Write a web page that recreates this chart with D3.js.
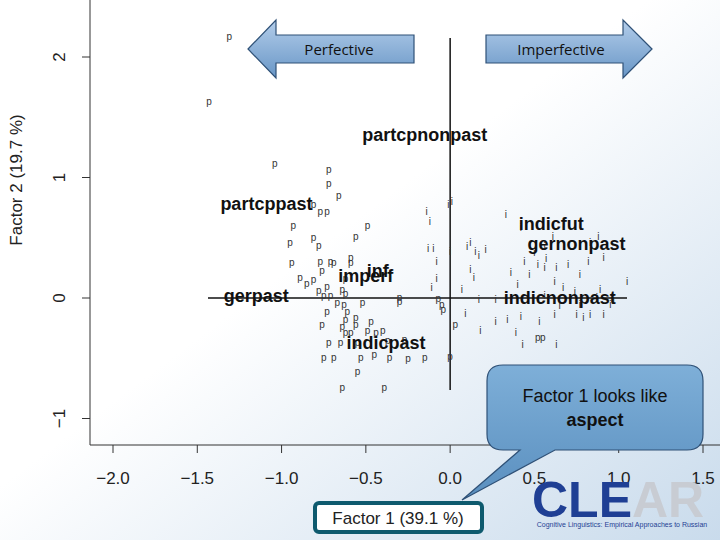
<!DOCTYPE html>
<html><head><meta charset="utf-8">
<script src="https://cdn.jsdelivr.net/npm/d3@7"></script>
<style>body{margin:0;} text{font-family:"Liberation Sans",Arial,sans-serif;}</style>
</head><body><div id="chart"></div>
<script>
const width = 720, height = 540

// points (factor 1, factor 2)
const pPoints = [[-1.31,2.17],[-1.43,1.63],[-1.04,1.11],[-0.72,1.06],[-0.72,0.95],[-0.66,0.85],[-0.81,0.77],[-0.77,0.71],[-0.73,0.71],[-0.93,0.6],[-0.49,0.6],[-0.95,0.46],[-0.81,0.5],[-0.56,0.51],[-0.78,0.43],[-0.94,0.29],[-0.77,0.3],[-0.71,0.3],[-0.59,0.33],[-0.69,0.29],[-0.59,0.29],[-0.76,0.22],[-0.62,0.16],[-0.89,0.17],[-0.81,0.15],[-0.78,0.06],[-0.73,0.09],[-0.71,0.02],[-0.75,0.02],[-0.64,0.07],[-0.62,0.03],[-0.85,0.12],[-0.67,-0.04],[-0.52,-0.04],[-0.3,-0.03],[-0.05,-0.06],[-0.04,-0.1],[-0.73,-0.12],[-0.63,-0.06],[-0.61,-0.12],[-0.56,-0.17],[-0.62,-0.18],[-0.56,-0.22],[-0.76,-0.22],[-0.64,-0.24],[-0.47,-0.2],[-0.44,-0.29],[-0.62,-0.29],[-0.59,-0.29],[-0.49,-0.27],[-0.4,-0.27],[-0.72,-0.37],[-0.65,-0.37],[-0.55,-0.37],[-0.37,-0.36],[-0.27,-0.35],[-0.75,-0.5],[-0.69,-0.5],[-0.53,-0.5],[-0.45,-0.47],[-0.36,-0.5],[-0.25,-0.51],[-0.15,-0.5],[-0.55,-0.61],[-0.64,-0.75],[-0.39,-0.75],[0.03,-0.22],[0.0,-0.49],[0.52,-0.33],[0.55,-0.33],[-0.3,0.0],[-0.07,-0.01]]
const iPoints = [[-0.14,0.71],[-0.01,0.77],[0.01,0.8],[-0.12,0.63],[-0.13,0.41],[-0.1,0.41],[-0.08,0.3],[0.0,0.38],[-0.08,0.16],[-0.11,0.08],[0.1,0.42],[0.15,0.38],[0.17,0.35],[0.21,0.4],[0.12,0.23],[0.14,0.17],[0.33,0.69],[0.42,0.58],[0.44,0.3],[0.17,-0.02],[0.07,0.07],[0.57,0.32],[0.52,0.27],[0.56,0.25],[0.63,0.25],[0.7,0.27],[0.36,0.21],[0.47,0.19],[0.62,0.13],[0.77,0.19],[0.89,0.07],[1.05,0.13],[0.82,0.3],[0.91,0.33],[0.88,0.51],[0.83,0.46],[0.4,0.11],[0.56,0.02],[0.74,0.05],[0.67,0.08],[0.87,0.0],[0.95,-0.06],[0.97,-0.02],[0.65,-0.07],[0.42,-0.16],[0.34,-0.18],[0.53,-0.2],[0.62,-0.14],[0.83,-0.14],[0.75,-0.14],[0.79,-0.17],[0.91,-0.14],[0.27,-0.2],[0.39,-0.29],[0.43,-0.39],[0.63,-0.39],[0.5,0.37],[0.61,0.51],[0.77,-0.06],[0.56,0.42],[0.27,-0.02],[0.12,0.46],[0.18,-0.27],[0.09,-0.13]]
const labelNames = ['partcpnonpast','partcppast','gerpast','imperf','inf','indicpast','indicfut','gernonpast','indicnonpast']
const labelX = [-0.15,-1.09,-1.15,-0.5,-0.43,-0.38,0.6,0.75,0.65]
const labelY = [1.35,0.78,0.02,0.18,0.22,-0.37,0.61,0.45,0.0]
const xTicks = [-2.0,-1.5,-1.0,-0.5,0.0,0.5,1.0,1.5]
const yTicks = [-1,0,1,2]

const x = d3.scaleLinear().domain([-2, 1.5]).range([113, 703])
const y = d3.scaleLinear().domain([0, 2]).range([298, 57])

const svg = d3.select('#chart').append('svg').attr('width', width).attr('height', height)
const defs = svg.append('defs')
const bg = defs.append('linearGradient').attr('id', 'bg').attr('x1', 0).attr('y1', 0).attr('x2', 1).attr('y2', 1)
bg.append('stop').attr('offset', '0.45').attr('stop-color', '#ffffff')
bg.append('stop').attr('offset', '1').attr('stop-color', '#c9dbec')
const ag = defs.append('linearGradient').attr('id', 'arrow').attr('x1', 0).attr('y1', 0).attr('x2', 0).attr('y2', 1)
ag.append('stop').attr('offset', '0').attr('stop-color', '#b3cdea')
ag.append('stop').attr('offset', '1').attr('stop-color', '#6896c6')
const cg = defs.append('linearGradient').attr('id', 'callout').attr('x1', 0).attr('y1', 0).attr('x2', 0).attr('y2', 1)
cg.append('stop').attr('offset', '0').attr('stop-color', '#7eafd8')
cg.append('stop').attr('offset', '1').attr('stop-color', '#5a8fbf')

svg.append('rect').attr('width', width).attr('height', height).attr('fill', 'url(#bg)')

// frame
svg.append('path').attr('d', 'M90,0V445H720').attr('fill', 'none').attr('stroke', '#333').attr('stroke-width', 1)

// crosshair
svg.append('line').attr('x1', 208).attr('x2', 627).attr('y1', y(0)).attr('y2', y(0)).attr('stroke', '#111').attr('stroke-width', 1.5)
svg.append('line').attr('x1', x(0)).attr('x2', x(0)).attr('y1', 38).attr('y2', 390).attr('stroke', '#111').attr('stroke-width', 1.5)

// axes
svg.selectAll('.xt').data(xTicks).join('line').attr('x1', d => x(d)).attr('x2', d => x(d))
  .attr('y1', 445).attr('y2', 453).attr('stroke', '#333')
svg.selectAll('.xl').data(xTicks).join('text').attr('x', d => x(d)).attr('y', 484)
  .attr('text-anchor', 'middle').style('font-size', '17px').attr('fill', '#222')
  .text(d => (d < 0 ? '\u2212' : '') + Math.abs(d).toFixed(1))
svg.selectAll('.yt').data(yTicks).join('line').attr('x1', 82).attr('x2', 90)
  .attr('y1', d => y(d)).attr('y2', d => y(d)).attr('stroke', '#333')
svg.selectAll('.yl').data(yTicks).join('text')
  .attr('transform', d => `translate(65,${y(d)}) rotate(-90)`)
  .attr('text-anchor', 'middle').style('font-size', '17px').attr('fill', '#222')
  .text(d => (d < 0 ? '\u2212' : '') + Math.abs(d))
svg.append('text').attr('transform', 'translate(22,180) rotate(-90)').attr('text-anchor', 'middle')
  .style('font-size', '17px').attr('fill', '#222').text('Factor 2  (19.7 %)')

// points
svg.selectAll('.p').data(pPoints).join('text').attr('x', d => x(d[0])).attr('y', d => y(d[1]) + 3)
  .attr('text-anchor', 'middle').style('font-size', '10px').attr('fill', '#333').text('p')
svg.selectAll('.i').data(iPoints).join('text').attr('x', d => x(d[0])).attr('y', d => y(d[1]) + 3)
  .attr('text-anchor', 'middle').style('font-size', '10px').attr('fill', '#333').text('i')

// category labels
svg.selectAll('.lab').data(labelNames).join('text')
  .attr('x', (d, k) => x(labelX[k])).attr('y', (d, k) => y(labelY[k]) + 6)
  .attr('text-anchor', 'middle').style('font-size', '18px').attr('font-weight', 700).attr('fill', '#111')
  .text(d => d)

// arrows
svg.append('path').attr('d', 'M248,49L276,20V35H414V63H276V78Z')
  .attr('fill', 'url(#arrow)').attr('stroke', '#2f5177').attr('stroke-width', 1.2)
svg.append('path').attr('d', 'M652,49L623,20V35H486V63H623V78Z')
  .attr('fill', 'url(#arrow)').attr('stroke', '#2f5177').attr('stroke-width', 1.2)
svg.append('text').attr('x', 339).attr('y', 55).attr('text-anchor', 'middle').style('font-size', '15px')
  .style('font-family', '"Open Sans",sans-serif').attr('fill', '#111').text('Perfective')
svg.append('text').attr('x', 561).attr('y', 55).attr('text-anchor', 'middle').style('font-size', '15px')
  .style('font-family', '"Open Sans",sans-serif').attr('fill', '#111').text('Imperfective')

// callout
svg.append('path')
  .attr('d', 'M503,365H687Q703,365 703,381V434Q703,450 687,450H555L462,500L520,450H503Q487,450 487,434V381Q487,365 503,365Z')
  .attr('fill', 'url(#callout)').attr('stroke', '#2f5177').attr('stroke-width', 1.2)
svg.append('text').attr('x', 595).attr('y', 402).attr('text-anchor', 'middle').style('font-size', '18px')
  .attr('fill', '#111').text('Factor 1 looks like')
svg.append('text').attr('x', 595).attr('y', 426).attr('text-anchor', 'middle').style('font-size', '18px')
  .attr('font-weight', 700).attr('fill', '#111').text('aspect')

// x title box
svg.append('rect').attr('x', 315).attr('y', 503).attr('width', 167).attr('height', 29).attr('rx', 4)
  .attr('fill', '#fff').attr('stroke', '#0e5a6e').attr('stroke-width', 4)
svg.append('text').attr('x', 398).attr('y', 524).attr('text-anchor', 'middle').style('font-size', '17px')
  .attr('fill', '#222').text('Factor 1  (39.1 %)')

// logo
const logo = svg.append('text').attr('x', 532).attr('y', 517).style('font-size', '50px').attr('font-weight', 700)
logo.append('tspan').attr('fill', '#1f3f94').text('CLE')
logo.append('tspan').attr('fill', '#c8ccd3').text('AR')
svg.append('text').attr('x', 622).attr('y', 527).attr('text-anchor', 'middle').style('font-size', '7px')
  .attr('fill', '#1f3f94').text('Cognitive Linguistics: Empirical Approaches to Russian')
</script></body></html>
